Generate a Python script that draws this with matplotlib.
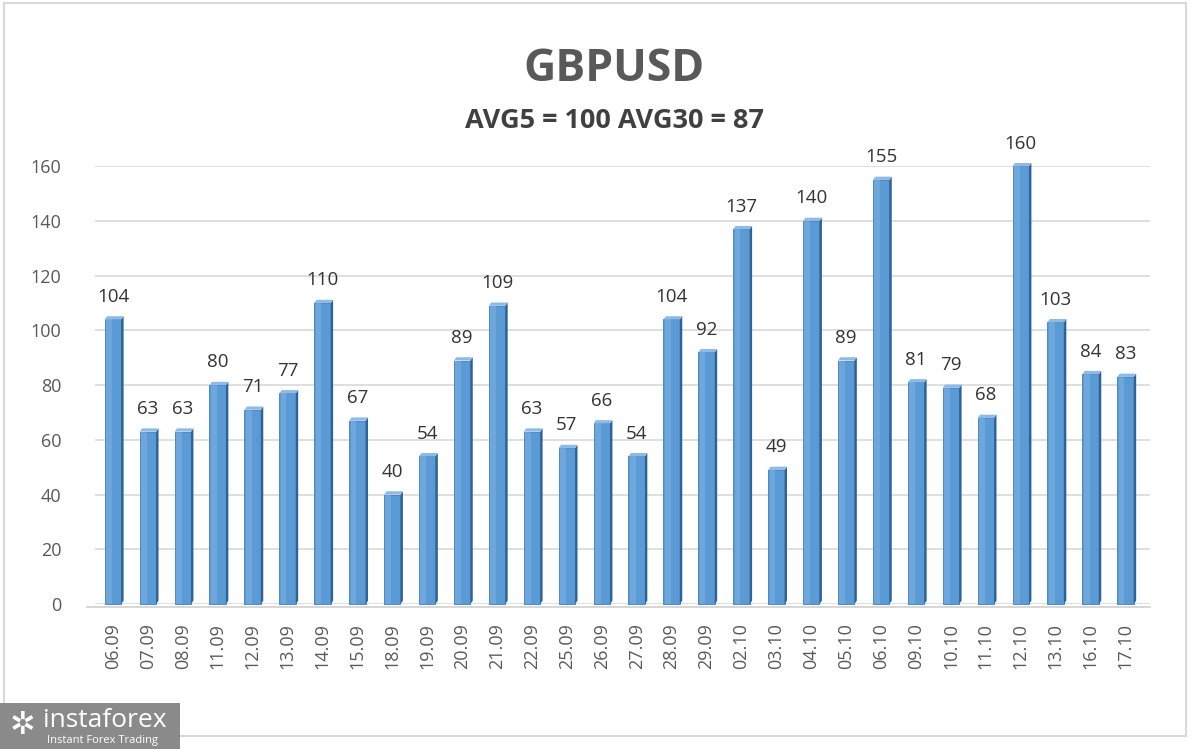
import matplotlib
matplotlib.use("Agg")
import matplotlib.pyplot as plt
from matplotlib.patches import Rectangle, Polygon

dates = ["06.09", "07.09", "08.09", "11.09", "12.09", "13.09", "14.09", "15.09",
         "18.09", "19.09", "20.09", "21.09", "22.09", "25.09", "26.09", "27.09",
         "28.09", "29.09", "02.10", "03.10", "04.10", "05.10", "06.10", "09.10",
         "10.10", "11.10", "12.10", "13.10", "16.10", "17.10"]
values = [104, 63, 63, 80, 71, 77, 110, 67, 40, 54, 89, 109, 63, 57, 66, 54,
          104, 92, 137, 49, 140, 89, 155, 81, 79, 68, 160, 103, 84, 83]
yticks = [0, 20, 40, 60, 80, 100, 120, 140, 160]
title = "GBPUSD"
subtitle = "AVG5 = 100 AVG30 = 87"

plt.rcParams['font.family'] = ['Open Sans', 'DejaVu Sans']

fig = plt.figure(figsize=(12, 7.49), dpi=100)
fig.patch.set_facecolor('white')

ax = fig.add_axes([0.079, 0.1936, 0.879, 0.5844])
ax.set_xlim(-0.52, len(values) - 0.31)
ax.set_ylim(0, 160)
ax.set_yticks(yticks)
ax.yaxis.grid(True, color='#d9d9d9', linewidth=1.2)
ax.set_axisbelow(True)
for s in ax.spines.values():
    s.set_visible(False)
ax.tick_params(axis='both', length=0, colors='#595959', labelsize=13)
ax.tick_params(axis='y', pad=24)
x = list(range(len(values)))
ax.set_xticks(x)
ax.set_xticklabels(dates, rotation=90)
ax.tick_params(axis='x', pad=14)

w = 0.47
side = 0.07
depth = 1.2
for xi, v in zip(x, values):
    ax.add_patch(Rectangle((xi - w / 2, 0), w, v, facecolor='#5b9bd5',
                           edgecolor='#3f7fbf', linewidth=0.6, zorder=3, clip_on=False))
    ax.add_patch(Rectangle((xi - w / 2 + 0.04, 0), w * 0.35, v, facecolor='#7ab0e0',
                           edgecolor='none', linewidth=0, alpha=0.6, zorder=3, clip_on=False))
    ax.add_patch(Polygon([(xi + w / 2, 0), (xi + w / 2 + side, depth),
                          (xi + w / 2 + side, v + depth), (xi + w / 2, v)],
                         closed=True, facecolor='#2e6398', edgecolor='none', zorder=3,
                         clip_on=False))
    ax.add_patch(Polygon([(xi - w / 2, v), (xi - w / 2 + side, v + depth),
                          (xi + w / 2 + side, v + depth), (xi + w / 2, v)],
                         closed=True, facecolor='#8dbbe6', edgecolor='none', zorder=3,
                         clip_on=False))
    ax.text(xi, v + 5.0, str(v), ha='center', va='bottom', fontsize=13.5,
            color='#333333', zorder=4)

ax.plot([-0.75, len(values) - 0.31], [-1.2, -1.2], color='#d0d0d0', lw=1.2,
        clip_on=False, zorder=2)

fig.text(0.512, 0.907, title, ha='center', va='center', fontsize=32,
         fontweight='bold', color='#595959')
fig.text(0.512, 0.839, subtitle, ha='center', va='center', fontsize=19.5,
         fontweight='bold', color='#404040')

fig.add_artist(Rectangle((0.003, 0.018), 0.985, 0.978, transform=fig.transFigure,
                         fill=False, edgecolor='#d9d9d9', linewidth=1.5))

fig.add_artist(Rectangle((0.0, 0.0), 0.15, 0.062, transform=fig.transFigure,
                         facecolor='#8a8a8a', edgecolor='none'))
fig.text(0.036, 0.038, "instaforex", fontsize=19, color='white', va='center', ha='left')
fig.text(0.039, 0.011, "Instant Forex Trading", fontsize=8, color='white',
         va='center', ha='left')
fig.text(0.019, 0.031, "✲", fontsize=22, color='white', va='center', ha='center',
         family=['DejaVu Sans'])

fig.savefig("out.png", dpi=100, facecolor='white')
